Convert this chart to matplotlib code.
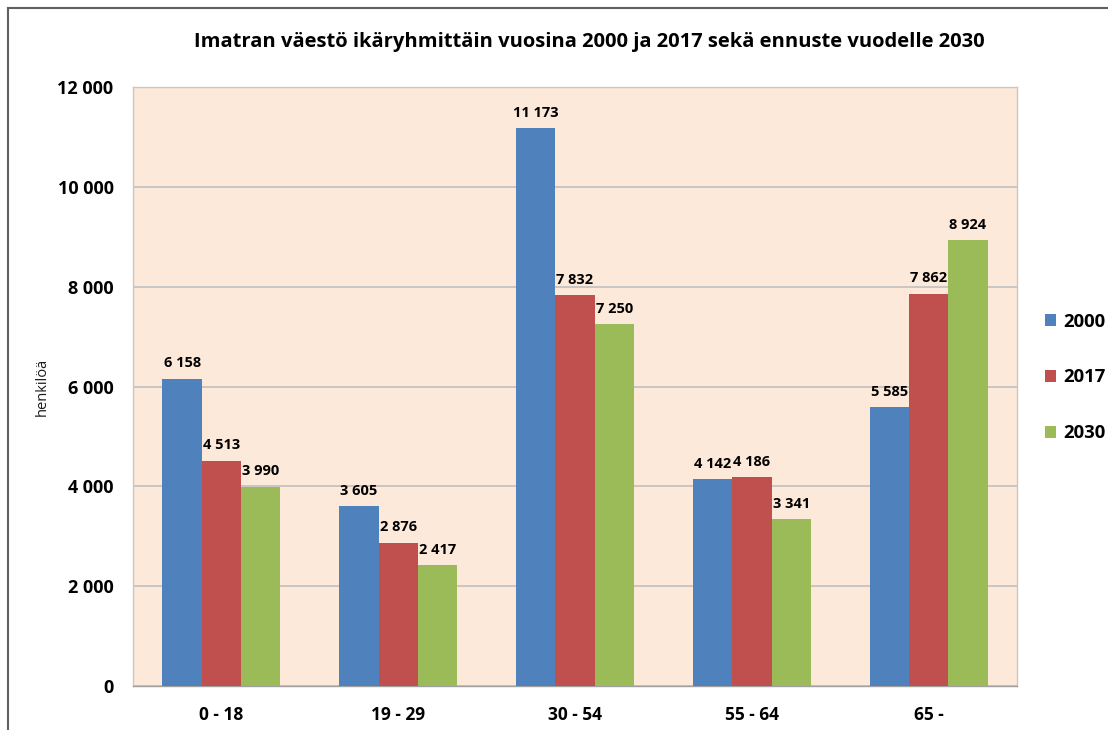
import matplotlib.pyplot as plt
import numpy as np

# --- data ---
categories = ["0 - 18", "19 - 29", "30 - 54", "55 - 64", "65 -"]
years = ["2000", "2017", "2030"]
v2000 = [6158, 3605, 11173, 4142, 5585]
v2017 = [4513, 2876, 7832, 4186, 7862]
v2030 = [3990, 2417, 7250, 3341, 8924]
colors = ["#4F81BD", "#C0504D", "#9BBB59"]

plt.rcParams['font.family'] = ['Open Sans', 'DejaVu Sans']


def fmt(v):
    return f"{v:,}".replace(",", " ")


fig = plt.figure(figsize=(11.08, 7.3), dpi=100)
ax = fig.add_axes([0.120, 0.060, 0.798, 0.821])
ax.set_facecolor("#FDE9D9")

x = np.arange(len(categories))
w = 0.222
for i, (vals, c, lbl) in enumerate(zip([v2000, v2017, v2030], colors, years)):
    pos = x + (i - 1) * w
    ax.bar(pos, vals, width=w, color=c, label=lbl, zorder=3)
    for px, v in zip(pos, vals):
        ax.text(px, v + 170, fmt(v), ha='center', va='bottom',
                fontsize=10.5, fontweight='bold', zorder=4)

ax.set_xlim(-0.5, len(categories) - 0.5)
ax.set_ylim(0, 12000)
ax.set_yticks(np.arange(0, 12001, 2000))
ax.set_yticklabels([fmt(t) for t in range(0, 12001, 2000)],
                   fontsize=13, fontweight='bold')
ax.set_xticks(x)
ax.set_xticklabels(categories, fontsize=12.5, fontweight='bold')
ax.tick_params(axis='both', length=0)
ax.tick_params(axis='y', pad=14)
ax.tick_params(axis='x', pad=14)
ax.yaxis.grid(True, color="#BFBFBF", linewidth=1.2, zorder=0)
ax.set_axisbelow(True)
for s in ax.spines.values():
    s.set_color("#C8C8C8")
    s.set_linewidth(1.0)
ax.spines['bottom'].set_color("#A0A0A0")

ax.set_ylabel("henkilöä", fontsize=10.5, color="#1a1a1a")
ax.yaxis.set_label_coords(-0.094, 0.50)

fig.text(0.532, 0.942,
         "Imatran väestö ikäryhmittäin vuosina 2000 ja 2017 sekä ennuste vuodelle 2030",
         ha='center', va='center', fontsize=14.5, fontweight='bold')

leg = fig.legend(loc='center left', bbox_to_anchor=(0.928, 0.483), frameon=False,
                 prop={'weight': 'bold', 'size': 13.3},
                 handlelength=0.6, handleheight=0.6, handletextpad=0.4,
                 labelspacing=2.05)

# outer frame lines (top and left)
fig.add_artist(plt.Line2D([0.007, 1.0], [0.989, 0.989], color="#606060", linewidth=1.5,
                          transform=fig.transFigure))
fig.add_artist(plt.Line2D([0.007, 0.007], [0.0, 0.989], color="#606060", linewidth=1.5,
                          transform=fig.transFigure))

fig.savefig("out.png", dpi=100)
